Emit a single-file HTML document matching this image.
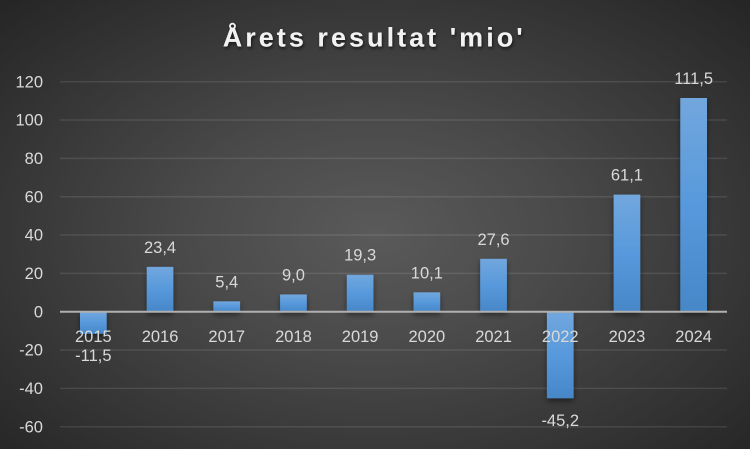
<!DOCTYPE html>
<html>
<head>
<meta charset="utf-8">
<style>
  html, body { margin: 0; padding: 0; }
  body {
    width: 750px; height: 449px; overflow: hidden;
    background: radial-gradient(ellipse farthest-corner at 50% 52%, #5a5a5a 0%, #4a4a4a 35%, #363636 70%, #252525 100%);
  }
  svg { display: block; }
  text { font-family: "Liberation Sans", Arial, sans-serif; }
</style>
</head>
<body>
<svg width="750" height="449" viewBox="0 0 750 449" xmlns="http://www.w3.org/2000/svg">
  <defs>
    <linearGradient id="bar" x1="0" y1="0" x2="0" y2="1">
      <stop offset="0" stop-color="#72a7dd"/>
      <stop offset="0.5" stop-color="#5799dc"/>
      <stop offset="1" stop-color="#4687c8"/>
    </linearGradient>
    <filter id="sh" x="-50%" y="-20%" width="200%" height="160%">
      <feDropShadow dx="0" dy="3" stdDeviation="3" flood-color="#000" flood-opacity="0.45"/>
    </filter>
    <filter id="tsh" x="-10%" y="-30%" width="120%" height="160%">
      <feDropShadow dx="1" dy="2" stdDeviation="1.5" flood-color="#000" flood-opacity="0.6"/>
    </filter>
  </defs>

  <!-- Title -->
  <text x="222.7" y="46.5" font-size="27" font-weight="bold" fill="#f2f2f2" textLength="300" lengthAdjust="spacing" filter="url(#tsh)">Årets resultat 'mio'</text>

  <!-- Gridlines -->
  <g stroke="#ffffff" stroke-opacity="0.1" stroke-width="1.5">
    <line x1="60" x2="727" y1="81.7" y2="81.7"/>
    <line x1="60" x2="727" y1="120.03" y2="120.03"/>
    <line x1="60" x2="727" y1="158.37" y2="158.37"/>
    <line x1="60" x2="727" y1="196.7" y2="196.7"/>
    <line x1="60" x2="727" y1="235.03" y2="235.03"/>
    <line x1="60" x2="727" y1="273.37" y2="273.37"/>
    <line x1="60" x2="727" y1="350.03" y2="350.03"/>
    <line x1="60" x2="727" y1="388.37" y2="388.37"/>
    <line x1="60" x2="727" y1="426.7" y2="426.7"/>
  </g>

  <!-- Y axis labels -->
  <g font-size="16.5" fill="#d9d9d9" text-anchor="end">
    <text x="43" y="87.4">120</text>
    <text x="43" y="125.7">100</text>
    <text x="43" y="164.1">80</text>
    <text x="43" y="202.4">60</text>
    <text x="43" y="240.7">40</text>
    <text x="43" y="279.1">20</text>
    <text x="43" y="317.4">0</text>
    <text x="43" y="355.7">-20</text>
    <text x="43" y="394.1">-40</text>
    <text x="43" y="432.4">-60</text>
  </g>

  <!-- Bars -->
  <g fill="url(#bar)" filter="url(#sh)">
    <rect x="80" y="311.7" width="26.7" height="22.04"/>
    <rect x="146.7" y="266.85" width="26.7" height="44.85"/>
    <rect x="213.4" y="301.35" width="26.7" height="10.35"/>
    <rect x="280.1" y="294.45" width="26.7" height="17.25"/>
    <rect x="346.8" y="274.71" width="26.7" height="36.99"/>
    <rect x="413.5" y="292.34" width="26.7" height="19.36"/>
    <rect x="480.2" y="258.8" width="26.7" height="52.9"/>
    <rect x="546.9" y="311.7" width="26.7" height="86.63"/>
    <rect x="613.6" y="194.59" width="26.7" height="117.11"/>
    <rect x="680.3" y="97.99" width="26.7" height="213.71"/>
  </g>

  <!-- Zero axis -->
  <line x1="60" x2="727" y1="311.7" y2="311.7" stroke="#b0b0b0" stroke-width="2"/>

  <!-- Category labels -->
  <g font-size="16.5" fill="#d9d9d9" text-anchor="middle">
    <text x="93.35" y="342">2015</text>
    <text x="160.05" y="342">2016</text>
    <text x="226.75" y="342">2017</text>
    <text x="293.45" y="342">2018</text>
    <text x="360.15" y="342">2019</text>
    <text x="426.85" y="342">2020</text>
    <text x="493.55" y="342">2021</text>
    <text x="560.25" y="342">2022</text>
    <text x="626.95" y="342">2023</text>
    <text x="693.65" y="342">2024</text>
  </g>

  <!-- Data labels -->
  <g font-size="16.5" fill="#d9d9d9" text-anchor="middle">
    <text x="93.35" y="361.2">-11,5</text>
    <text x="160.05" y="252.85">23,4</text>
    <text x="226.75" y="287.35">5,4</text>
    <text x="293.45" y="280.45">9,0</text>
    <text x="360.15" y="260.7">19,3</text>
    <text x="426.85" y="278.3">10,1</text>
    <text x="493.55" y="244.8">27,6</text>
    <text x="560.25" y="425.8">-45,2</text>
    <text x="626.95" y="180.6">61,1</text>
    <text x="693.65" y="84">111,5</text>
  </g>
</svg>
</body>
</html>
